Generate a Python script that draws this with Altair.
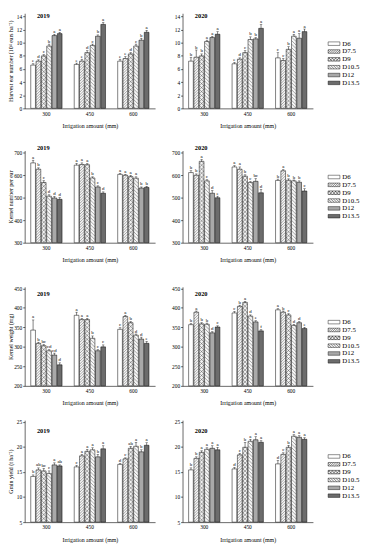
import altair as alt
import pandas as pd

treatments = ["D6", "D7.5", "D9", "D10.5", "D12", "D13.5"]
irrigation = ["300", "450", "600"]
fills = ["#ffffff", "#f6f6f6", "#f2f2f2", "#f6f6f6", "#a9a9a9", "#6c6c6c"]
# hatch style per treatment: (direction, spacing in bars, spacing in legend symbols)
hatch_style = {"D7.5": ("/", 1.15, 0.75), "D9": ("x", 1.7, 1.1), "D10.5": ("\\", 1.5, 0.9)}

# order: 300 (D6..D13.5), 450 (D6..D13.5), 600 (D6..D13.5)
ear19 = [6.6, 7.2, 8.0, 9.5, 11.1, 11.4, 6.7, 7.2, 8.5, 9.6, 11.0, 12.8, 7.2, 7.6, 8.3, 9.5, 10.4, 11.6]
ear19_err = [0.2, 0.2, 0.2, 0.3, 0.2, 0.2, 0.2, 0.3, 0.3, 0.2, 0.2, 0.3, 0.3, 0.3, 0.2, 0.3, 0.3, 0.3]
ear19_sig = ["e", "d", "c", "b", "a", "a", "e", "e", "d", "c", "b", "a", "e", "e", "d", "c", "b", "a"]

ear20 = [7.2, 7.8, 8.0, 10.2, 10.8, 11.3, 6.8, 7.5, 8.5, 10.5, 10.6, 12.2, 7.7, 7.3, 9.0, 11.0, 10.7, 11.7]
ear20_err = [0.6, 1.1, 0.3, 0.2, 0.2, 0.4, 0.2, 0.2, 0.3, 0.4, 0.2, 0.6, 0.8, 0.3, 0.4, 0.3, 0.7, 0.4]
ear20_sig = ["b", "b", "b", "a", "a", "a", "e", "d", "c", "b", "b", "a", "c", "c", "b", "a", "a", "a"]

kn19 = [655, 627, 568, 507, 499, 493, 645, 648, 647, 588, 548, 520, 604, 600, 594, 587, 543, 546]
kn19_err = [12, 6, 8, 6, 7, 8, 8, 7, 5, 5, 5, 6, 5, 4, 6, 6, 5, 5]
kn19_sig = ["a", "b", "c", "d", "d", "d", "a", "a", "a", "b", "c", "d", "a", "a", "a", "a", "b", "b"]

kn20 = [612, 600, 662, 575, 520, 500, 637, 627, 596, 568, 573, 522, 577, 620, 578, 575, 569, 530]
kn20_err = [8, 6, 8, 5, 12, 7, 6, 10, 6, 4, 12, 15, 6, 5, 6, 4, 6, 10]
kn20_sig = ["b", "b", "a", "c", "d", "e", "a", "a", "b", "c", "bc", "d", "b", "a", "b", "b", "b", "c"]

kw19 = [343, 309, 303, 290, 279, 254, 381, 370, 370, 322, 290, 300, 345, 378, 362, 330, 320, 309]
kw19_err = [26, 3, 3, 3, 5, 5, 8, 3, 3, 6, 3, 5, 4, 3, 3, 3, 5, 5]
kw19_sig = ["a", "b", "bc", "cd", "cd", "d", "a", "a", "a", "b", "c", "c", "c", "a", "b", "d", "d", "e"]

kw20 = [357, 389, 359, 358, 336, 351, 387, 404, 414, 379, 364, 341, 395, 389, 382, 355, 362, 347]
kw20_err = [3, 3, 3, 3, 3, 3, 4, 3, 3, 3, 3, 3, 3, 3, 3, 3, 3, 3]
kw20_sig = ["b", "a", "b", "b", "d", "c", "c", "b", "a", "d", "e", "f", "a", "b", "c", "d", "d", "e"]

gy19 = [14.1, 15.4, 15.2, 14.7, 16.4, 16.2, 16.0, 18.2, 19.1, 19.4, 18.0, 19.6, 16.5, 17.6, 19.7, 20.1, 19.0, 20.3]
gy19_err = [0.3, 0.4, 0.5, 0.5, 0.4, 0.2, 0.3, 0.3, 0.4, 0.4, 0.5, 0.6, 0.2, 0.2, 0.4, 0.8, 0.4, 0.5]
gy19_sig = ["b", "ab", "bc", "c", "a", "ab", "c", "a", "a", "a", "b", "a", "d", "c", "ab", "a", "b", "a"]

gy20 = [15.4, 17.7, 18.9, 19.5, 19.7, 19.4, 15.6, 18.4, 19.9, 21.1, 21.4, 20.9, 16.6, 18.5, 19.9, 22.1, 21.9, 21.5]
gy20_err = [0.4, 0.3, 0.3, 0.3, 0.5, 0.5, 0.3, 0.3, 1.0, 0.4, 0.6, 0.3, 0.7, 0.3, 0.4, 0.3, 0.3, 0.3]
gy20_sig = ["b", "b", "a", "a", "a", "a", "d", "c", "b", "a", "a", "a", "d", "c", "b", "a", "a", "a"]

SERIF = "Liberation Serif"
PANEL_W = 133
PAD_I, PAD_O, SUB_PAD = 0.28, 0.14, 0.12
STEP = PANEL_W / (3 - PAD_I + 2 * PAD_O)
SUB_W = STEP * (1 - PAD_I) / (6 - SUB_PAD) * (1 - SUB_PAD)


def hatch_segments(kind, x0, x1, y0, y1, s):
    """Diagonal hatch lines clipped to the box [x0,x1] x [y0,y1] (path units, y down)."""
    segs = []
    if kind in ("/", "x"):
        c = x0 + y0 + s / 2
        while c < x1 + y1:
            lo, hi = max(x0, c - y1), min(x1, c - y0)
            if hi - lo > 1e-3:
                segs.append("M%.2f,%.2fL%.2f,%.2f" % (lo, c - lo, hi, c - hi))
            c += s
    if kind in ("\\", "x"):
        c = y0 - x1 + s / 2
        while c < y1 - x0:
            lo, hi = max(x0, y0 - c), min(x1, y1 - c)
            if hi - lo > 1e-3:
                segs.append("M%.2f,%.2fL%.2f,%.2f" % (lo, c + lo, hi, c + hi))
            c += s
    return "".join(segs)


RECT = "M-2,-0.6H2V0.6H-2Z"
legend_paths = []
for t in treatments:
    st = hatch_style.get(t)
    legend_paths.append(RECT + (hatch_segments(st[0], -2, 2, -0.6, 0.6, st[2]) if st else ""))
legend_shape_expr = "[%s][indexof([%s], datum.value)]" % (
    ",".join("'%s'" % p for p in legend_paths), ",".join("'%s'" % t for t in treatments))


def make_df(vals, errs, sigs, domain, height):
    rows = []
    ppu = height / (domain[1] - domain[0])
    for i, irr in enumerate(irrigation):
        for j, t in enumerate(treatments):
            k = i * 6 + j
            st = hatch_style.get(t)
            L = 2 * (vals[k] - domain[0]) * ppu / SUB_W
            hp = hatch_segments(st[0], -0.92, 0.92, 0, L - 0.15, st[1]) if st else ""
            rows.append({"irr": irr, "trt": t, "val": vals[k], "top": vals[k] + errs[k], "sig": sigs[k],
                         "hp": hp if hp else ("M0,0" if st else "")})
    return pd.DataFrame(rows)


def panel(vals, errs, sigs, year, ytitle, domain, ticks, height, left, legend_y, year_y):
    df = make_df(vals, errs, sigs, domain, height)
    base = alt.Chart(df)
    x = alt.X("irr:N", sort=irrigation,
              scale=alt.Scale(paddingInner=PAD_I, paddingOuter=PAD_O),
              axis=alt.Axis(title="Irrigation amount (mm)", labelAngle=0, ticks=False,
                            labelPadding=3, titlePadding=6))
    xo = alt.XOffset("trt:N", sort=treatments,
                     scale=alt.Scale(domain=treatments, paddingInner=SUB_PAD, paddingOuter=0.0))
    if left:
        yaxis = alt.Axis(values=ticks, title=ytitle, minExtent=10, maxExtent=10, titlePadding=1)
    else:
        yaxis = alt.Axis(values=ticks, title=None)
    ysc = alt.Scale(domain=domain, nice=False, zero=False)
    if left:
        legend = None
    else:
        legend = alt.Legend(orient="none", legendX=151, legendY=legend_y, title=None,
                            symbolType={"expr": legend_shape_expr}, symbolSize=36,
                            symbolStrokeColor="black", symbolStrokeWidth=0.45,
                            labelFont=SERIF, labelFontSize=7, labelOffset=5,
                            rowPadding=0, padding=0, labelColor="black")
    yv = alt.Y("val:Q", scale=ysc, axis=yaxis)
    bars = base.mark_bar(strokeWidth=0).encode(
        x=x, xOffset=xo, y=yv, y2=alt.datum(domain[0]),
        fill=alt.Fill("trt:N", sort=treatments,
                      scale=alt.Scale(domain=treatments, range=fills), legend=legend),
    )
    hatch = base.transform_filter(alt.datum.hp != "").mark_point(
        filled=False, color="#2a2a2a", strokeWidth=0.4, opacity=1, size=SUB_W * SUB_W
    ).encode(x=x, xOffset=xo, y=yv, shape=alt.Shape("hp:N", scale=None, legend=None))
    outline = base.mark_bar(stroke="black", strokeWidth=0.5, fillOpacity=0).encode(
        x=x, xOffset=xo, y=yv, y2=alt.datum(domain[0]))
    err = base.mark_rule(color="black", strokeWidth=0.5).encode(
        x=x, xOffset=xo, y=yv, y2="top:Q")
    cap = base.mark_tick(color="black", thickness=0.5, size=2.5).encode(
        x=x, xOffset=xo, y=alt.Y("top:Q", scale=ysc, axis=yaxis))
    txt = base.mark_text(font=SERIF, fontSize=5, dy=-3.5, color="black").encode(
        x=x, xOffset=xo, y=alt.Y("top:Q", scale=ysc, axis=yaxis), text="sig:N")
    yr = alt.Chart(pd.DataFrame({"t": [year]})).mark_text(
        font=SERIF, fontSize=6.5, fontWeight="bold", align="left", baseline="middle", color="black"
    ).encode(x=alt.value(12.5), y=alt.value(year_y), text="t:N")
    return alt.layer(bars, hatch, outline, err, cap, txt, yr).properties(width=PANEL_W, height=height)


def spacer(h):
    return alt.Chart(pd.DataFrame({"a": [0]})).mark_point(opacity=0).encode(
        x=alt.X("a:Q", axis=None), y=alt.Y("a:Q", axis=None)).properties(width=1, height=h)


t1 = "Harvest ear number (10\u2074 ears ha\u207b\u00b9)"
t2 = "Kernel number per ear"
t3 = "Kernel weight (mg)"
t4 = "Grain yield (t ha\u207b\u00b9)"

tk1, tk2, tk3, tk4 = list(range(0, 15, 2)), list(range(300, 701, 100)), list(range(200, 451, 50)), list(range(5, 26, 5))
r1 = [panel(ear19, ear19_err, ear19_sig, "2019", t1, [0, 14.5], tk1, 97, True, 0, 3),
      panel(ear20, ear20_err, ear20_sig, "2020", t1, [0, 14.5], tk1, 97, False, 27.5, 3)]
r2 = [panel(kn19, kn19_err, kn19_sig, "2019", t2, [300, 710], tk2, 94, True, 0, -3),
      panel(kn20, kn20_err, kn20_sig, "2020", t2, [300, 710], tk2, 94, False, 23.5, -3)]
r3 = [panel(kw19, kw19_err, kw19_sig, "2019", t3, [200, 454], tk3, 101, True, 0, 7),
      panel(kw20, kw20_err, kw20_sig, "2020", t3, [200, 454], tk3, 101, False, 32.5, 7)]
r4 = [panel(gy19, gy19_err, gy19_sig, "2019", t4, [5, 25.3], tk4, 104, True, 0, 11),
      panel(gy20, gy20_err, gy20_sig, "2020", t4, [5, 25.3], tk4, 104, False, 33.5, 11)]

cells = r1 + [spacer(43), spacer(43)] + r2 + [spacer(45), spacer(45)] + r3 + [spacer(35), spacer(35)] + r4

chart = alt.concat(*cells, columns=2, spacing={"row": 0, "column": 28}, bounds="flush").resolve_scale(
    x="independent", y="independent", xOffset="independent", fill="independent", shape="independent"
).resolve_legend(fill="independent").properties(padding=0).configure_view(stroke=None).configure_axis(
    domainColor="black", domainWidth=0.6, tickColor="black", tickWidth=0.6, tickSize=2,
    labelFont=SERIF, titleFont=SERIF, labelFontSize=5.5, titleFontSize=6, titleFontWeight="normal",
    labelColor="black", titleColor="black", grid=False, labelPadding=1
)

chart.save("out.html", embed_options={"renderer": "svg", "actions": False})
